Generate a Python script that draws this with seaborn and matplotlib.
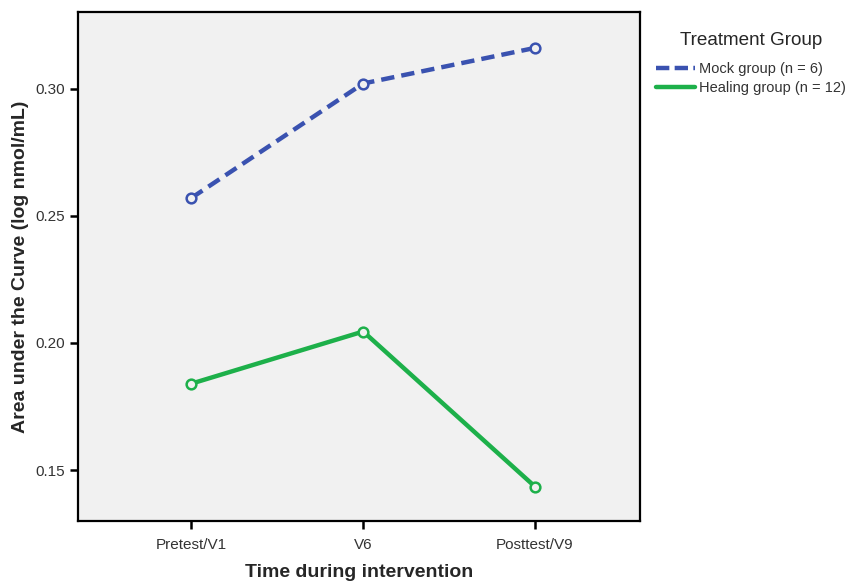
import matplotlib
matplotlib.use("Agg")
import matplotlib.pyplot as plt
import seaborn as sns
import pandas as pd
from matplotlib.lines import Line2D

times = ["Pretest/V1", "V6", "Posttest/V9"]
groups = ["Mock group (n = 6)", "Healing group (n = 12)"]
mock_vals = [0.257, 0.302, 0.316]
healing_vals = [0.184, 0.2045, 0.1435]

df = pd.DataFrame({
    "time": times * 2,
    "x": list(range(len(times))) * 2,
    "group": [groups[0]] * 3 + [groups[1]] * 3,
    "auc": mock_vals + healing_vals,
})

sns.set_theme(style="white")
plt.rcParams["font.family"] = ["Liberation Sans", "DejaVu Sans"]

colors = {groups[0]: "#3A52B0", groups[1]: "#1DB04A"}
bg = "#F1F1F1"

fig = plt.figure(figsize=(8.52, 5.85), dpi=100)
ax = fig.add_axes([0.0915, 0.1094, 0.6595, 0.8696])
ax.set_facecolor(bg)

sns.lineplot(data=df, x="x", y="auc", hue="group", style="group",
             palette=colors, dashes={groups[0]: (3, 1.6), groups[1]: ""},
             markers={groups[0]: "o", groups[1]: "o"}, markersize=7,
             markerfacecolor=bg, markeredgewidth=1.8, linewidth=3.2,
             ax=ax, legend=False)
for ln in ax.lines:
    ln.set_markeredgecolor(ln.get_color())
    ln.set_markerfacecolor(bg)

ax.set_xlim(-0.66, 2.61)
ax.set_ylim(0.13, 0.33)
ax.set_xticks(range(len(times)))
ax.set_xticklabels(times)
ax.set_yticks([0.15, 0.20, 0.25, 0.30])
ax.set_yticklabels(["0.15", "0.20", "0.25", "0.30"])
ax.tick_params(axis="both", direction="out", length=6, width=1.8, color="black",
               labelsize=11, labelcolor="#333333", left=True, bottom=True, pad=3)
ax.tick_params(axis="x", pad=6)
for s in ax.spines.values():
    s.set_color("black")
    s.set_linewidth(1.6)

ax.set_xlabel("Time during intervention", fontsize=14, fontweight="bold", labelpad=9)
ax.set_ylabel("Area under the Curve (log nmol/mL)", fontsize=14, fontweight="bold", labelpad=5)

handles = [
    Line2D([0], [0], color=colors[groups[0]], lw=3.2, ls=(0, (3, 1.2))),
    Line2D([0], [0], color=colors[groups[1]], lw=3.2),
]
leg = fig.legend(handles, groups, loc="upper left", bbox_to_anchor=(0.763, 0.955),
                 frameon=False, title="Treatment Group", fontsize=10.5,
                 title_fontsize=13.6, handlelength=2.7, handletextpad=0.25,
                 labelspacing=0.4, alignment="center", borderaxespad=0)
leg._legend_box.sep = 9
for t in leg.get_texts():
    t.set_color("#333333")

fig.savefig("out.png", dpi=100)
